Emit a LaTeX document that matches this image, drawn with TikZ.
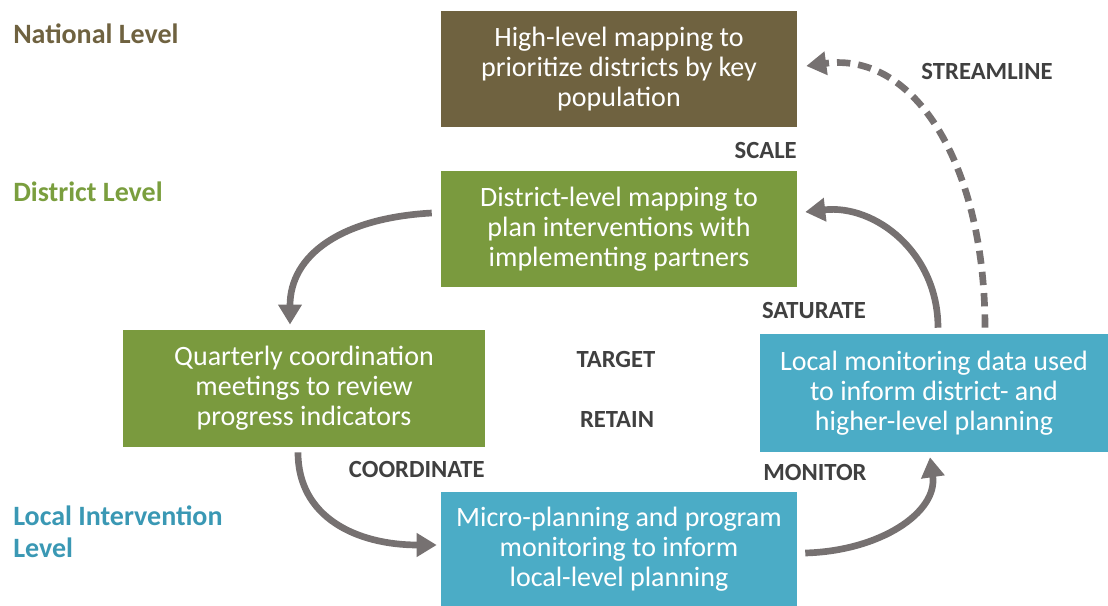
\documentclass[tikz,border=0pt]{standalone}
\usepackage{fontspec}
\setmainfont{Carlito}
\usepackage{tikz}
\usetikzlibrary{arrows.meta,positioning,calc}
\definecolor{natbrown}{RGB}{111,98,64}
\definecolor{distgreen}{RGB}{122,154,62}
\definecolor{lvlgreen}{RGB}{122,158,62}
\definecolor{locblue}{RGB}{75,172,198}
\definecolor{lvlblue}{RGB}{58,152,180}
\definecolor{flowgray}{RGB}{118,113,113}
\definecolor{keygray}{RGB}{64,64,64}
\tikzstyle{lvlbox}=[shape=rectangle,text=white,align=center,inner sep=0pt,font=\fontsize{21}{22.5}\selectfont]
\tikzstyle{lvltext}=[anchor=west,align=left,inner sep=0pt,font=\bfseries\fontsize{21}{24}\selectfont]
\tikzstyle{keyword}=[text=keygray,inner sep=0pt,font=\bfseries\fontsize{18.5}{20}\selectfont]
\tikzstyle{flow}=[draw=flowgray,line width=5pt,-{Triangle[length=15pt,width=17pt]}]

\begin{document}
\begin{tikzpicture}[x=0.75pt,y=-0.75pt]
 \useasboundingbox (0,0) rectangle (1108,606);

 % levels
 \node[lvltext,text=natbrown] (lnat) at (13,34) {National Level};
 \node[lvltext,text=lvlgreen] (ldist) at (13,192) {District Level};
 \node[lvltext,text=lvlblue] (lloc) at (13,532) {Local Intervention\\Level};

 % boxes
 \node[lvlbox,fill=natbrown,minimum width=267pt,minimum height=87pt] (nat) at (619,69)
   {High-level mapping to\\prioritize districts by key\\population};
 \node[lvlbox,fill=distgreen,minimum width=267pt,minimum height=87pt] (dist) at (619,229)
   {District-level mapping to\\plan interventions with\\implementing partners};
 \node[lvlbox,fill=distgreen,minimum width=271.5pt,minimum height=88pt] (quart) at (304,388.5)
   {Quarterly coordination\\meetings to review\\progress indicators};
 \node[lvlbox,fill=locblue,minimum width=267pt,minimum height=86pt] (micro) at (619,549)
   {Micro-planning and program\\monitoring to inform\\local-level planning};
 \node[lvlbox,fill=locblue,minimum width=261pt,minimum height=88.5pt] (lmon) at (934,393)
   {Local monitoring data used\\to inform district- and\\higher-level planning};

 % keywords
 \node[keyword,anchor=east] (kscale) at (797,150) {SCALE};
 \node[keyword] (kstream) at (987,71) {STREAMLINE};
 \node[keyword] (ksat) at (814,311) {SATURATE};
 \node[keyword] (ktarget) at (616,359) {TARGET};
 \node[keyword] (kretain) at (617,420) {RETAIN};
 \node[keyword,anchor=east] (kcoord) at (485,469) {COORDINATE};
 \node[keyword] (kmon) at (815,472) {MONITOR};

 % cycle
 \draw[flow] ($(dist.west)+(-9,-16)$) .. controls +(-90,5) and +(0,-70) .. ($(quart.north)+(-14,-5)$);
 \draw[flow] ($(quart.south)+(-6,5)$) .. controls +(0,65) and +(-80,0) .. ($(micro.west)+(-4,-4)$);
 \draw[flow] ($(micro.east)+(8,4)$) .. controls +(75,-2) and +(8,55) .. ($(lmon.south)+(-4,5)$);
 \draw[flow] ($(lmon.north)+(4,-6)$) .. controls +(0,-75) and +(70,-8) .. ($(dist.east)+(8,-17)$);
 \draw[flow,dash pattern=on 10pt off 6pt] ($(lmon.north)+(51,-6)$) .. controls +(0,-160) and +(110,-15) .. ($(nat.east)+(9,-3)$);

\end{tikzpicture}
\end{document}
